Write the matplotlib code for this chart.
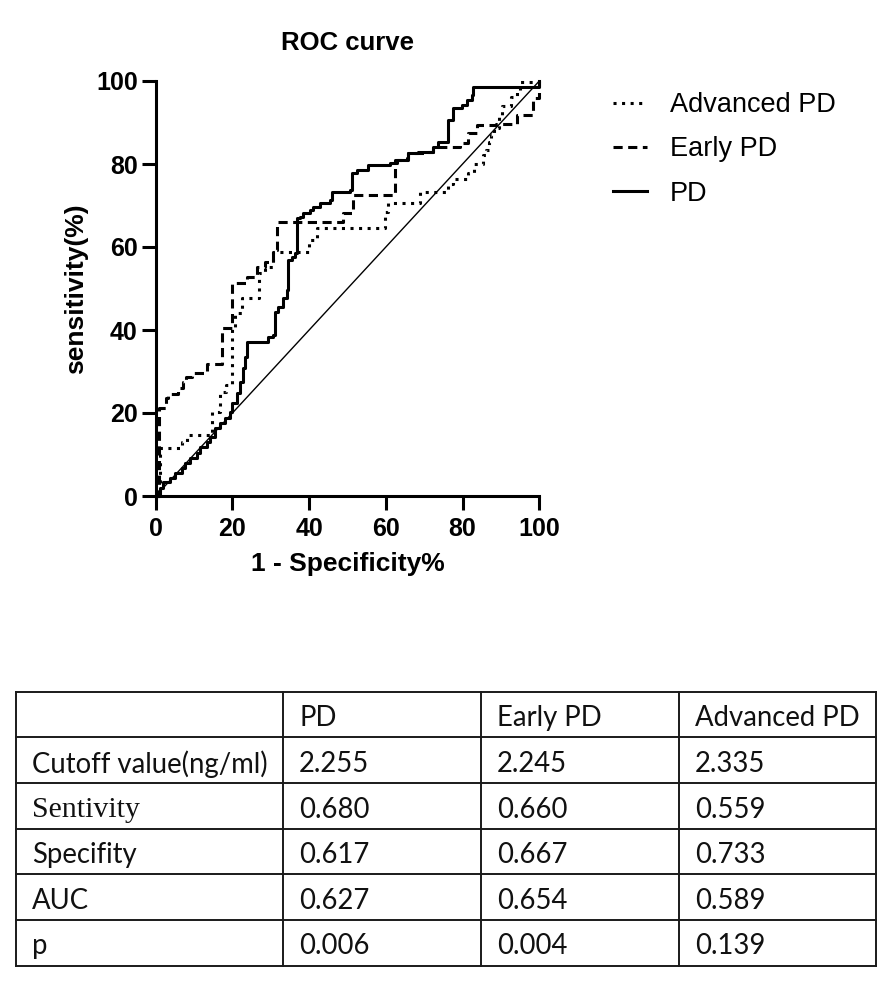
import matplotlib
matplotlib.use("Agg")
import matplotlib.pyplot as plt

# ---------------- data ----------------
pd_fpr = [0, 1, 1, 2, 3.7, 5, 6.8, 7.6, 8.9, 10.7, 11.5, 13.3, 14.2, 15.5, 16.8, 18.1, 19.4, 19.8,
          21.1, 22, 22.8, 23.3, 23.7, 28.9, 29.4, 30.5, 31.1, 32, 33.3, 34.1, 34.6, 35.5, 36.3, 36.8,
          37.6, 38.5, 40.2, 41.1, 42.8, 45.4, 45.9, 50.7, 51.1, 52.4, 55.4, 61.1, 62.8, 65.4, 65.8,
          68.5, 71.1, 72.4, 73.7, 75.9, 76.3, 77.6, 79.8, 81.1, 82.4, 82.8, 98.9, 100]
pd_tpr = [0, 0, 2, 3.4, 4.3, 5.5, 6.8, 7.9, 9.2, 10.3, 11.9, 13.1, 14.3, 16.3, 17.5, 18.7, 20.3, 22.3,
          24.7, 27.5, 30.8, 33.6, 37.2, 37.2, 38.4, 38.8, 44.4, 45.6, 47.6, 49.6, 56.9, 57.7, 58.5, 66.9,
          67.3, 68.1, 68.9, 69.7, 70.5, 71.3, 73.3, 73.7, 77.8, 78.6, 79.8, 80.2, 81, 81.4, 82.6,
          83, 83, 84.2, 85.4, 85.4, 90.6, 93.4, 94.2, 95.4, 96.6, 98.6, 98.6, 100]

early_fpr = [0, 0.8, 2.6, 3.3, 5.9, 7.2, 8.0, 9.4, 13.3, 17.2, 19.8, 23.7, 26.3, 28.5, 30.7, 31.5,
             48.9, 51.5, 62.4, 65.8, 71.1, 72.4, 79.3, 81.4, 83.7, 88.6, 94.2, 98.4, 100]
early_tpr = [0, 21.3, 23.5, 24.5, 26, 27.5, 28.7, 29.6, 31.7, 40.5, 51.4, 52.8, 55.2, 56.5, 59.3, 66.1,
             68.1, 72.5, 81, 82.6, 83, 84.2, 85, 87.4, 89.4, 89.6, 91.8, 95.8, 100]

adv_fpr = [0, 1, 6.8, 8.1, 14.6, 16.8, 18.4, 19.8, 20.8, 22.4, 26.8, 28.5, 30.7, 40.0, 42.0, 59.8,
           60.5, 68.9, 76.3, 77.5, 81.5, 83.0, 85.2, 86.0, 86.8, 87.4, 88.2, 89.5, 90.4, 92.5, 94.2,
           95.0, 100]
adv_tpr = [0, 11.5, 13.1, 14.7, 20.3, 25.1, 26.7, 40.4, 44, 47.6, 53.7, 55.3, 58.9, 61.7, 64.5, 68.5,
           70.5, 73.2, 75.3, 76.5, 77.8, 79.9, 82.2, 83.4, 85.4, 87, 88.6, 91.4, 94, 96.2, 97.8,
           99.8, 100]

ref_line = [0, 100]
ticks = [0, 20, 40, 60, 80, 100]

table_columns = ["", "PD", "Early PD", "Advanced PD"]
table_rows = ["Cutoff value(ng/ml)", "Sentivity", "Specifity", "AUC", "p"]
pd_stats = [2.255, 0.680, 0.617, 0.627, 0.006]
early_stats = [2.245, 0.660, 0.667, 0.654, 0.004]
adv_stats = [2.335, 0.559, 0.733, 0.589, 0.139]

# ---------------- figure ----------------
W, H = 887, 1000
fig = plt.figure(figsize=(W / 100, H / 100), dpi=100)
plt.rcParams['font.family'] = ['Liberation Sans', 'DejaVu Sans']

ax_l, ax_r, ax_t, ax_b = 155.7, 539.3, 81, 496
ax = fig.add_axes([ax_l / W, 1 - ax_b / H, (ax_r - ax_l) / W, (ax_b - ax_t) / H])

ax.plot(ref_line, ref_line, color='black', lw=1.0, clip_on=False)
l_adv, = ax.plot(adv_fpr, adv_tpr, drawstyle='steps-post', color='black', lw=2.2,
                 linestyle=(0, (1.0, 1.8)), clip_on=False, label='Advanced PD')
l_early, = ax.plot(early_fpr, early_tpr, drawstyle='steps-post', color='black', lw=2.2,
                   linestyle=(0, (3.0, 1.8)), clip_on=False, label='Early PD')
l_pd, = ax.plot(pd_fpr, pd_tpr, drawstyle='steps-post', color='black', lw=2.2,
                clip_on=False, label='PD')

ax.set_xlim(0, 100)
ax.set_ylim(0, 100)
for s in ['top', 'right']:
    ax.spines[s].set_visible(False)
for s in ['left', 'bottom']:
    ax.spines[s].set_linewidth(2.2)
ax.set_xticks(ticks)
ax.set_yticks(ticks)
ax.tick_params(axis='both', length=10, width=2.2, labelsize=18)
ax.tick_params(axis='x', pad=5)
ax.tick_params(axis='y', pad=3)
for lab in ax.get_xticklabels() + ax.get_yticklabels():
    lab.set_fontweight('bold')

ax.set_title("ROC curve", fontsize=18.5, fontweight='bold', pad=22)
ax.set_xlabel("1 - Specificity%", fontsize=19, fontweight='bold', labelpad=8)
ax.set_ylabel("sensitivity(%)", fontsize=19, fontweight='bold', labelpad=6)

fig.legend(handles=[l_adv, l_early, l_pd], loc='upper left',
           bbox_to_anchor=(613 / W, 1 - 92 / H), frameon=False, fontsize=19.5,
           handlelength=1.25, handletextpad=0.85, labelspacing=0.68,
           borderpad=0, borderaxespad=0)

# ---------------- table ----------------
col_bounds = [16, 283, 481, 679, 876]
row_bounds = [691.7, 737.3, 783.3, 829, 874.3, 920, 965.7]
tax = fig.add_axes([col_bounds[0] / W, 1 - row_bounds[-1] / H,
                    (col_bounds[-1] - col_bounds[0]) / W, (row_bounds[-1] - row_bounds[0]) / H])
tax.set_xlim(col_bounds[0], col_bounds[-1])
tax.set_ylim(row_bounds[-1], row_bounds[0])
tax.axis('off')
for x in col_bounds:
    tax.plot([x, x], [row_bounds[0], row_bounds[-1]], color='#1a1a1a', lw=1.4,
             clip_on=False, solid_capstyle='projecting')
for y in row_bounds:
    tax.plot([col_bounds[0], col_bounds[-1]], [y, y], color='#1a1a1a', lw=1.4,
             clip_on=False, solid_capstyle='projecting')

tfont = ['Lato', 'DejaVu Sans']
tsize = 19.8
pad = 16
cells = [table_columns] + [[r, f"{a:.3f}", f"{b:.3f}", f"{c:.3f}"]
                           for r, a, b, c in zip(table_rows, pd_stats, early_stats, adv_stats)]
for i, row in enumerate(cells):
    yc = (row_bounds[i] + row_bounds[i + 1]) / 2
    for j, txt in enumerate(row):
        if not txt:
            continue
        fam = tfont
        size = tsize
        if txt == "Sentivity":
            fam = ['Liberation Serif', 'DejaVu Serif']
            size = 21.5
        tax.text(col_bounds[j] + pad, yc + 1, txt, ha='left', va='center_baseline',
                 fontsize=size, family=fam, color='#111111')

fig.savefig("out.png", dpi=100)
